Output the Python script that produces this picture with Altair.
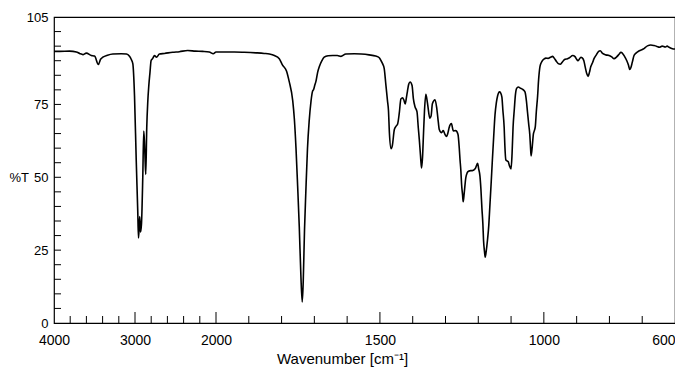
import altair as alt
import pandas as pd

# Wavenumber (cm-1) and transmittance (%T)
wavenumber = [
    4000, 3930, 3807, 3724, 3684, 3643, 3601, 3539, 3499, 3453, 3425, 3397, 3339, 3273, 3170, 3105,
    3068, 3047, 3027, 3006, 2985, 2966, 2957, 2948, 2942, 2932, 2920, 2904, 2892, 2883, 2874, 2867,
    2855, 2842, 2830, 2815, 2801, 2781, 2760, 2735, 2698, 2637, 2535, 2452, 2350, 2255, 2165, 2083,
    2034, 2000,
    1984, 1944, 1914, 1878, 1853, 1837, 1822, 1807, 1797, 1785, 1777, 1766, 1761, 1756, 1751, 1746,
    1741, 1737, 1734, 1730, 1726, 1721, 1716, 1710, 1706, 1702, 1699, 1695, 1690, 1685, 1677, 1670,
    1658, 1644, 1630, 1619, 1604, 1578, 1557, 1533, 1513, 1502, 1497, 1492, 1487, 1482, 1477, 1474,
    1471, 1466, 1462, 1456, 1451, 1446, 1441, 1436, 1431, 1427, 1423, 1419, 1416, 1412, 1408, 1402,
    1398, 1393, 1387, 1383, 1380, 1376, 1373, 1370, 1367, 1364, 1360, 1357, 1354, 1348, 1344, 1340,
    1332, 1327, 1322, 1319, 1312, 1307, 1302, 1297, 1292, 1289, 1282, 1276, 1269, 1262, 1258, 1256,
    1253, 1251, 1248, 1246, 1243, 1238, 1234, 1230, 1223, 1218, 1209, 1202, 1199, 1195, 1192, 1189,
    1186, 1184, 1181, 1179, 1176, 1172, 1168, 1165, 1161, 1157, 1153, 1149, 1145, 1141, 1138, 1135,
    1132, 1128, 1125, 1121, 1119, 1116, 1112, 1109, 1105, 1100, 1097, 1094, 1090, 1087, 1083, 1078,
    1072, 1065, 1060, 1057, 1053, 1050, 1046, 1043, 1041, 1039, 1035, 1032, 1029, 1026, 1023, 1019,
    1016, 1012, 1008, 1004, 999, 994, 987, 980, 973, 968, 962, 956, 950, 944, 937, 928,
    922, 912, 905, 900, 896, 892, 887, 883, 878, 874, 869, 865, 861, 857, 851, 847,
    840, 833, 828, 821, 811, 801, 793, 786, 778, 770, 765, 760, 754, 747, 742, 738,
    735, 730, 725, 719, 709, 697, 684, 674, 664, 655, 648, 639, 630, 624, 618, 610,
    602, 600,
]
transmittance = [
    93.2, 93.2, 93.3, 93.0, 92.5, 92.1, 92.6, 91.8, 91.6, 88.7, 90.5, 91.2, 91.9, 92.3, 92.4, 92.3,
    91.5, 90.5, 89.0, 78.0, 56.0, 38.3, 29.2, 33.0, 36.5, 31.2, 34.0, 50.0, 65.9, 62.0, 55.0, 51.0,
    67.0, 76.0, 81.3, 86.0, 90.1, 90.8, 91.8, 91.2, 92.3, 92.5, 92.9, 93.1, 93.5, 93.3, 93.2, 93.0,
    92.4, 93.0,
    93.0, 93.0, 92.9, 92.7, 92.5, 92.3, 91.8, 90.7, 88.5, 86.5, 83.0, 76.3, 70.0, 60.0, 47.0, 33.0,
    16.0, 7.2, 14.0, 32.0, 45.0, 59.8, 69.0, 76.3, 79.3, 80.2, 81.5, 83.0, 86.0, 87.9, 90.0, 91.2,
    91.7, 91.8, 91.8, 91.5, 92.3, 92.4, 92.3, 92.0, 91.6, 91.0, 90.1, 89.0, 87.4, 81.9, 76.3, 73.0,
    65.0, 59.8, 61.0, 66.4, 67.5, 68.3, 72.0, 76.9, 77.3, 76.5, 75.2, 77.5, 79.6, 82.0, 82.7, 81.5,
    77.0, 74.2, 72.5, 67.0, 63.1, 57.0, 53.2, 57.0, 65.3, 73.0, 78.5, 77.0, 74.7, 70.3, 71.0, 75.2,
    76.6, 74.0, 69.0, 66.4, 65.3, 66.0, 64.8, 64.0, 65.5, 67.0, 68.4, 65.9, 66.0, 64.8, 60.0, 56.5,
    52.0, 47.7, 44.0, 41.6, 44.5, 49.9, 51.5, 52.1, 52.3, 52.3, 53.0, 54.8, 53.0, 50.5, 46.0, 39.5,
    34.0, 28.4, 24.5, 22.6, 24.5, 28.4, 33.5, 39.5, 47.5, 56.0, 64.0, 71.4, 75.5, 78.0, 79.0, 79.3,
    79.0, 77.5, 73.0, 67.0, 61.0, 56.0, 55.6, 55.4, 54.0, 52.9, 58.0, 67.0, 73.5, 78.0, 80.5, 81.0,
    80.6, 80.2, 79.7, 79.1, 76.0, 72.5, 68.0, 64.8, 61.0, 57.3, 61.0, 64.8, 66.0, 67.5, 72.5, 78.0,
    83.5, 87.9, 89.3, 90.1, 90.6, 90.9, 90.8, 91.2, 91.5, 90.8, 89.8, 89.0, 88.8, 89.5, 90.4, 90.7,
    91.0, 91.8, 91.4, 90.5, 90.0, 90.5, 91.2, 91.0, 90.0, 87.9, 85.5, 84.6, 86.0, 87.9, 89.5, 90.7,
    92.0, 93.2, 93.4, 92.5, 92.0, 91.8, 91.3, 90.7, 91.3, 92.3, 92.9, 92.5, 91.5, 90.0, 88.5, 87.0,
    87.5, 89.6, 91.8, 92.6, 93.4, 94.0, 95.1, 95.4, 95.2, 94.9, 94.6, 95.0, 94.7, 95.0, 94.6, 94.2,
    94.0, 94.0,
]
assert len(wavenumber) == len(transmittance)

x_label_values = [4000, 3000, 2000, 1500, 1000, 600]
x_major_ticks = [3000, 2000, 1500, 1000]
x_minor_ticks = [3800, 3600, 3400, 3200, 2800, 2600, 2400, 2200,
                 1900, 1800, 1700, 1600, 1400, 1300, 1200, 1100, 900, 800, 700]
y_label_values = [0, 25, 50, 75, 105]
y_tick_values = list(range(5, 101, 5))

W, H = 621, 306
FONT = "Liberation Sans"

spec = pd.DataFrame({"wn": wavenumber, "T": transmittance})
minor_df = pd.DataFrame({"wn": x_minor_ticks})
major_df = pd.DataFrame({"wn": x_major_ticks})
ytick_df = pd.DataFrame({"T": y_tick_values})

xscale = alt.Scale(domain=[4000, 2000, 600], range=[0, 162, W], zero=False, nice=False)
yscale = alt.Scale(domain=[0, 105], zero=False, nice=False)

x_axis = alt.Axis(values=x_label_values, title="Wavenumber [cm⁻¹]", format="d",
                  ticks=False, domain=False, grid=False, labelPadding=10, labelFontSize=14,
                  labelAlign={"condition": {"test": "datum.value == 600", "value": "right"},
                              "value": "center"},
                  titleFontSize=15, titlePadding=4, titleX=288)
y_axis = alt.Axis(values=y_label_values, title="%T", ticks=False, domain=False, grid=False,
                  labelPadding=6, labelFontSize=13, titleFontSize=13,
                  titleAngle=0, titleAlign="left", titleBaseline="middle",
                  titleX=-45, titleY=H * (1 - 50 / 105))

x_enc = alt.X("wn:Q", scale=xscale, axis=x_axis)
y_enc = alt.Y("T:Q", scale=yscale, axis=y_axis)

line = alt.Chart(spec).mark_line(color="black", strokeWidth=1.6, interpolate="monotone").encode(
    x=x_enc, y=y_enc,
)
minor = alt.Chart(minor_df).mark_rule(color="black", strokeWidth=1).encode(
    x=x_enc, y=alt.value(H), y2=alt.value(H - 7),
)
major = alt.Chart(major_df).mark_rule(color="black", strokeWidth=1).encode(
    x=x_enc, y=alt.value(H), y2=alt.value(H - 11),
)
yticks = alt.Chart(ytick_df).mark_rule(color="black", strokeWidth=1).encode(
    y=y_enc, x=alt.value(0), x2=alt.value(7),
)

chart = alt.layer(line, minor, major, yticks).properties(
    width=W, height=H,
    autosize=alt.AutoSizeParams(type="none"),
    padding={"left": 46, "top": 9, "right": 0, "bottom": 44},
).configure_view(
    stroke="black", strokeWidth=1.2
).configure_axis(
    labelFont=FONT, titleFont=FONT,
    labelColor="black", titleColor="black", titleFontWeight="normal",
)

chart.save("out.html", embed_options={"renderer": "svg", "actions": False})
